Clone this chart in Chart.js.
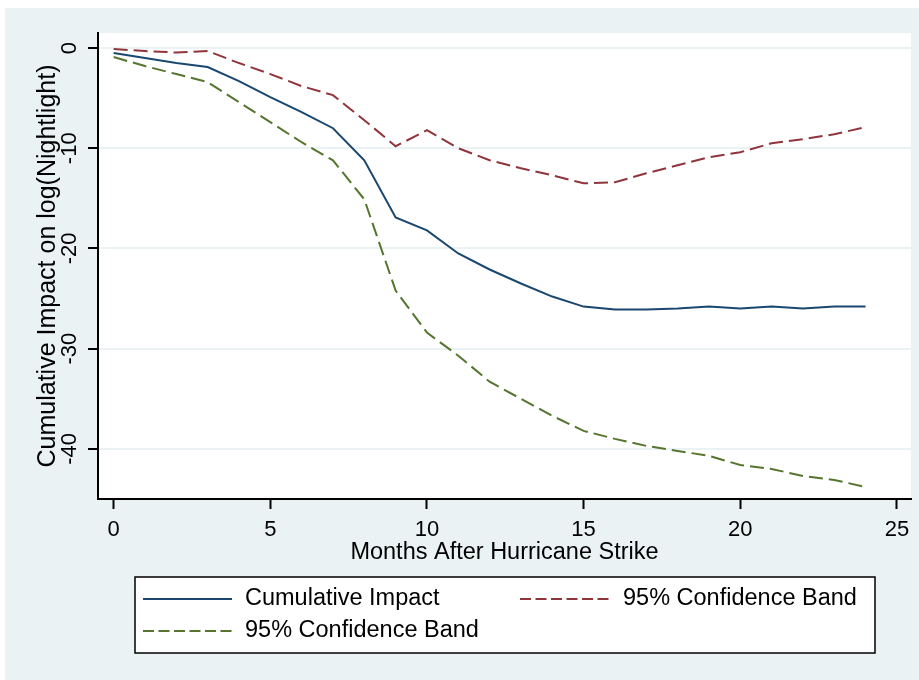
<!DOCTYPE html>
<html>
<head>
<meta charset="utf-8">
<script src="https://cdn.jsdelivr.net/npm/chart.js@4/dist/chart.umd.min.js"></script>
<style>
  html, body { margin: 0; padding: 0; background: #ffffff; }
  canvas { display: block; }
</style>
</head>
<body>
<canvas id="c" width="919" height="680"></canvas>
<script>
// ---- data ----
const months = [0,1,2,3,4,5,6,7,8,9,10,11,12,13,14,15,16,17,18,19,20,21,22,23,24];
const cumulativeImpact = [-0.5,-1.0,-1.5,-1.9,-3.3,-4.9,-6.4,-8.0,-11.2,-16.9,-18.2,-20.5,-22.1,-23.5,-24.8,-25.8,-26.1,-26.1,-26.0,-25.8,-26.0,-25.8,-26.0,-25.8,-25.8];
const upperBand = [-0.1,-0.3,-0.45,-0.3,-1.5,-2.6,-3.8,-4.7,-7.2,-9.8,-8.2,-10.0,-11.2,-12.0,-12.7,-13.5,-13.4,-12.5,-11.7,-10.9,-10.4,-9.5,-9.1,-8.6,-7.9];
const lowerBand = [-0.9,-1.8,-2.6,-3.4,-5.4,-7.4,-9.4,-11.2,-15.1,-24.2,-28.4,-30.7,-33.3,-35.0,-36.7,-38.2,-39.0,-39.7,-40.2,-40.7,-41.6,-42.0,-42.7,-43.1,-43.8];
const xTicks = [0,5,10,15,20,25];
const yTicks = [-40,-30,-20,-10,0];
const seriesLabels = ['Cumulative Impact','95% Confidence Band','95% Confidence Band'];

const FONT = "'Liberation Sans', Arial, sans-serif";
const toXY = arr => months.map((m, i) => ({x: m, y: arr[i]}));

const panelPlugin = {
  id: 'panel',
  beforeDraw(chart) {
    const {ctx, chartArea: a} = chart;
    ctx.save();
    ctx.fillStyle = '#ffffff';
    ctx.fillRect(0, 0, chart.width, chart.height);
    ctx.fillStyle = '#eaf2f3';
    ctx.fillRect(5, 8, chart.width - 5, chart.height - 8);
    ctx.fillStyle = '#ffffff';
    ctx.fillRect(a.left, a.top, a.right - a.left, a.bottom - a.top);
    ctx.restore();
  }
};

const yLabelPlugin = {
  id: 'yLabels',
  afterDraw(chart) {
    const {ctx} = chart;
    const ys = chart.scales.y;
    ctx.save();
    ctx.fillStyle = '#000';
    ctx.font = '22px ' + FONT;
    ctx.textAlign = 'center';
    ctx.textBaseline = 'middle';
    ys.ticks.forEach(t => {
      const py = ys.getPixelForValue(t.value);
      ctx.save();
      ctx.translate(70, py);
      ctx.rotate(-Math.PI / 2);
      ctx.fillText(String(t.value), 0, 0);
      ctx.restore();
    });
    ctx.restore();
  }
};

const legendPlugin = {
  id: 'boxLegend',
  afterDraw(chart) {
    const {ctx} = chart;
    const ds = chart.data.datasets;
    const box = {x: 135, y: 577, w: 740, h: 76};
    ctx.save();
    ctx.fillStyle = '#ffffff';
    ctx.fillRect(box.x, box.y, box.w, box.h);
    ctx.strokeStyle = '#000';
    ctx.lineWidth = 1.5;
    ctx.strokeRect(box.x, box.y, box.w, box.h);
    const slots = [
      {lx: 143, lw: 89, tx: 245, y: 599},
      {lx: 520, lw: 90, tx: 623, y: 599},
      {lx: 143, lw: 89, tx: 245, y: 631}
    ];
    ds.forEach((d, i) => {
      const s = slots[i];
      ctx.strokeStyle = d.borderColor;
      ctx.lineWidth = 2;
      ctx.setLineDash(d.borderDash && d.borderDash.length ? [11, 4.5] : []);
      ctx.beginPath();
      ctx.moveTo(s.lx, s.y);
      ctx.lineTo(s.lx + s.lw, s.y);
      ctx.stroke();
      ctx.setLineDash([]);
      ctx.fillStyle = '#000';
      ctx.font = '23.5px ' + FONT;
      ctx.textAlign = 'left';
      ctx.textBaseline = 'middle';
      ctx.fillText(d.label, s.tx, s.y);
    });
    ctx.restore();
  }
};

new Chart(document.getElementById('c'), {
  type: 'line',
  data: {
    datasets: [
      {label: seriesLabels[0], data: toXY(cumulativeImpact), borderColor: '#1a476f', borderWidth: 2, borderDash: [], pointRadius: 0, tension: 0, fill: false},
      {label: seriesLabels[1], data: toXY(upperBand), borderColor: '#90353b', borderWidth: 2, borderDash: [14, 6], pointRadius: 0, tension: 0, fill: false},
      {label: seriesLabels[2], data: toXY(lowerBand), borderColor: '#55752f', borderWidth: 2, borderDash: [14, 6], pointRadius: 0, tension: 0, fill: false}
    ]
  },
  options: {
    responsive: false,
    devicePixelRatio: 1,
    animation: false,
    layout: {padding: {left: 0, right: 8, top: 33, bottom: 113}},
    plugins: {legend: {display: false}, tooltip: {enabled: false}},
    scales: {
      x: {
        type: 'linear',
        min: -0.5,
        max: 25.45,
        afterBuildTicks: s => { s.ticks = xTicks.map(v => ({value: v})); },
        afterFit: s => { s.height = 68; },
        grid: {drawOnChartArea: false, drawTicks: true, tickLength: 10, tickColor: '#000', tickWidth: 2},
        border: {display: true, color: '#000', width: 2},
        ticks: {color: '#000', font: {family: FONT, size: 22}, padding: 8, maxRotation: 0, autoSkip: false},
        title: {display: true, text: 'Months After Hurricane Strike', color: '#000', font: {family: FONT, size: 23.5}, padding: {top: 0, bottom: 0}}
      },
      y: {
        type: 'linear',
        min: -45,
        max: 1.5,
        afterBuildTicks: s => { s.ticks = yTicks.map(v => ({value: v})); },
        afterFit: s => { s.width = 98; },
        grid: {drawOnChartArea: true, color: '#eaf2f3', lineWidth: 2, drawTicks: true, tickLength: 10, tickColor: '#000', tickWidth: 2},
        border: {display: true, color: '#000', width: 2},
        ticks: {display: false},
        title: {display: true, text: 'Cumulative Impact on log(Nightlight)', color: '#000', font: {family: FONT, size: 25}, padding: {top: 33, bottom: 0}}
      }
    }
  },
  plugins: [panelPlugin, yLabelPlugin, legendPlugin]
});
</script>
</body>
</html>
